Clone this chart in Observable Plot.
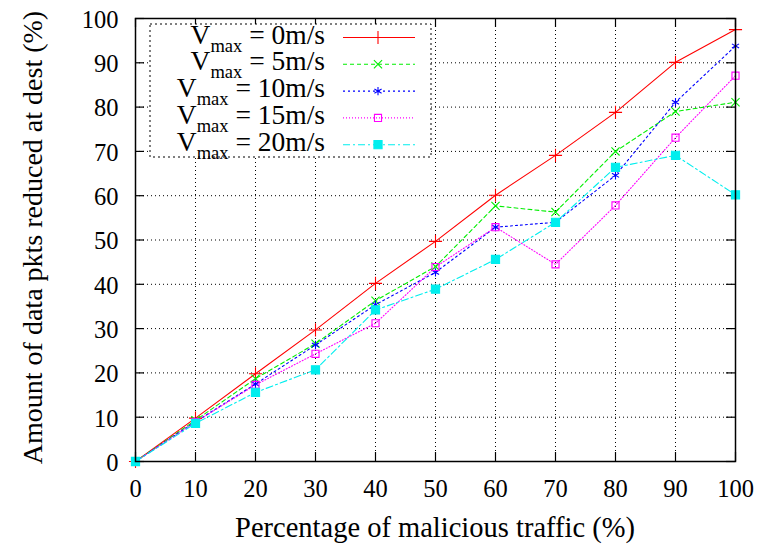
<!DOCTYPE html>
<html>
<head>
<meta charset="utf-8">
<script src="https://cdn.jsdelivr.net/npm/d3@7"></script>
<script src="https://cdn.jsdelivr.net/npm/@observablehq/plot@0.6"></script>
<style>
  html, body { margin: 0; padding: 0; background: #fff; }
  #chart { width: 759px; height: 548px; }
</style>
</head>
<body>
<div id="chart"></div>
<script>
// ---- data ----
const traffic = [0, 10, 20, 30, 40, 50, 60, 70, 80, 90, 100];
const vmax0  = [0, 9.8, 19.8, 29.7, 40.2, 49.7, 60.1, 69.1, 78.8, 90.1, 97.5];
const vmax5  = [0, 9.3, 18.7, 26.6, 36.3, 44.0, 57.7, 56.3, 70.0, 79.0, 81.1];
const vmax10 = [0, 9.0, 17.5, 26.3, 35.4, 42.7, 52.9, 54.0, 64.6, 81.1, 93.8];
const vmax15 = [0, 8.9, 17.3, 24.3, 31.2, 43.9, 52.9, 44.5, 57.8, 73.1, 87.1];
const vmax20 = [0, 8.6, 15.6, 20.7, 34.2, 38.9, 45.6, 54.0, 66.4, 69.1, 60.2];
const speeds = ["0", "5", "10", "15", "20"];
const xTicks = [0, 10, 20, 30, 40, 50, 60, 70, 80, 90, 100];
const yTicks = [0, 10, 20, 30, 40, 50, 60, 70, 80, 90, 100];
const xLabel = "Percentage of malicious traffic (%)";
const yLabel = "Amount of data pkts reduced at dest (%)";

// ---- styles ----
const FONT = "'Liberation Serif', 'DejaVu Serif', serif";
const styles = [
  {color: "#ff0000", dash: null,      symbol: "plus",     fill: "none",    r: 4.3},
  {color: "#00ee00", dash: "4,3",     symbol: "times",    fill: "none",    r: 3.8},
  {color: "#0000ff", dash: "2,3",     symbol: "asterisk", fill: "none",    r: 3.9},
  {color: "#ff00ff", dash: "1,2",     symbol: "square2",  fill: "none",    r: 4.5},
  {color: "#00eeee", dash: "7,3,2,3", symbol: "square",   fill: "#00eeee", r: 4.6}
];
const seriesValues = [vmax0, vmax5, vmax10, vmax15, vmax20];
const data = seriesValues.map((vals, i) => traffic.map((x, j) => ({x, y: vals[j], s: i})));

const W = 759, H = 548;
const M = {top: 18, right: 24, bottom: 87, left: 135};
const plotH = H - M.top - M.bottom;
const plotW = W - M.left - M.right;
const tickLen = 9;

const marks = [
  Plot.gridX(xTicks, {stroke: "#000", strokeOpacity: 1, strokeWidth: 1, strokeDasharray: "1,3"}),
  Plot.gridY(yTicks, {stroke: "#000", strokeOpacity: 1, strokeWidth: 1, strokeDasharray: "1,3"}),
  // inward ticks on all four sides
  Plot.tickX(xTicks, {x: d => d, insetTop: plotH - tickLen, stroke: "#000", strokeWidth: 1.2}),
  Plot.tickX(xTicks, {x: d => d, insetBottom: plotH - tickLen, stroke: "#000", strokeWidth: 1.2}),
  Plot.tickY(yTicks, {y: d => d, insetRight: plotW - tickLen, stroke: "#000", strokeWidth: 1.2}),
  Plot.tickY(yTicks, {y: d => d, insetLeft: plotW - tickLen, stroke: "#000", strokeWidth: 1.2}),
  Plot.axisX({ticks: xTicks, tickSize: 0, tickPadding: 18, tickFormat: d => String(d), label: null, fontSize: 24.5, fontFamily: FONT}),
  Plot.axisY({ticks: yTicks, tickSize: 0, tickPadding: 17, tickFormat: d => String(d), label: null, fontSize: 24.5, fontFamily: FONT, dy: 1.5})
];
data.forEach((d, i) => {
  const st = styles[i];
  marks.push(Plot.line(d, {x: "x", y: "y", stroke: st.color, strokeWidth: 1.1, strokeDasharray: st.dash}));
});
data.forEach((d, i) => {
  const st = styles[i];
  marks.push(Plot.dot(d, {x: "x", y: "y", symbol: () => st.symbol, r: st.r, stroke: st.color, fill: st.fill, strokeWidth: 1.1}));
});
marks.push(Plot.frame({stroke: "#000", strokeWidth: 1.5}));

const chart = Plot.plot({
  width: W, height: H,
  marginTop: M.top, marginRight: M.right, marginBottom: M.bottom, marginLeft: M.left,
  style: {fontFamily: FONT, fontSize: "24px", background: "#fff", color: "#000", overflow: "visible"},
  x: {domain: [0, 100]},
  y: {domain: [0, 100]},
  marks
});
document.getElementById("chart").appendChild(chart);

const svg = d3.select(chart);
svg.attr("font-family", FONT);
svg.selectAll("text").style("font-family", FONT);

// axis titles
svg.append("text")
  .attr("x", M.left + plotW / 2).attr("y", 537)
  .attr("text-anchor", "middle")
  .style("font-size", "28.5px").style("font-family", FONT)
  .attr("fill", "#000")
  .text(xLabel);
svg.append("text")
  .attr("transform", `translate(42, ${M.top + plotH / 2 - 2}) rotate(-90)`)
  .attr("text-anchor", "middle")
  .style("font-size", "28px").style("font-family", FONT)
  .attr("fill", "#000")
  .text(yLabel);

// legend (inside the frame, opaque)
const symMap = {plus: d3.symbolPlus, times: d3.symbolTimes, asterisk: d3.symbolAsterisk, square2: d3.symbolSquare2, square: d3.symbolSquare};
const lg = svg.append("g");
lg.append("rect").attr("x", 150).attr("y", 24).attr("width", 281).attr("height", 133)
  .attr("fill", "#fff").attr("stroke", "#000").attr("stroke-width", 1).attr("stroke-dasharray", "2,3");
speeds.forEach((sp, i) => {
  const st = styles[i];
  const cy = 37.5 + i * 26.8;
  const t = lg.append("text").attr("x", 325).attr("y", cy + 6).attr("text-anchor", "end")
    .style("font-family", FONT).style("font-size", "27.5px").attr("fill", "#000");
  t.append("tspan").text("V");
  t.append("tspan").attr("dy", 8).style("font-size", "18.5px").text("max");
  t.append("tspan").attr("dy", -8).text(`\u00a0= ${sp}m/s`);
  lg.append("line").attr("x1", 343).attr("x2", 415).attr("y1", cy).attr("y2", cy)
    .attr("stroke", st.color).attr("stroke-width", 1.1).attr("stroke-dasharray", st.dash);
  lg.append("path").attr("transform", `translate(378, ${cy})`)
    .attr("d", d3.symbol(symMap[st.symbol], st.r * st.r * Math.PI)())
    .attr("stroke", st.color).attr("fill", st.fill).attr("stroke-width", 1.1);
});
</script>
</body>
</html>
